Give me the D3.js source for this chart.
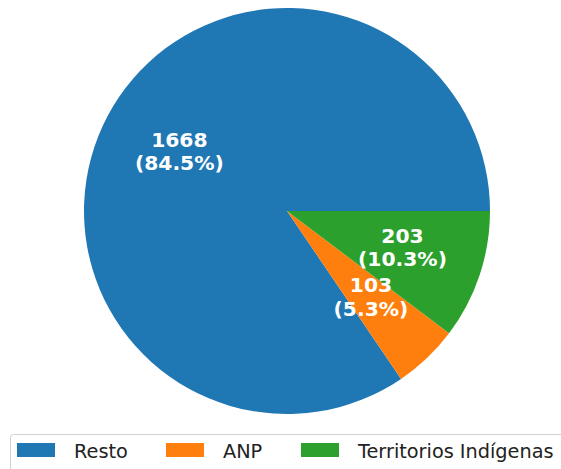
<!DOCTYPE html>
<html>
<head>
<meta charset="utf-8">
<script src="https://cdn.jsdelivr.net/npm/d3@7"></script>
<style>
  body { margin: 0; background: #fff; }
  svg { display: block; font-family: "DejaVu Sans", sans-serif; }
</style>
</head>
<body>
<div id="chart"></div>
<script>
// Data
const categories = ["Resto", "ANP", "Territorios Indígenas"];
const counts = [1668, 103, 203];
const pctLabels = ["84.5%", "5.3%", "10.3%"];
const colors = ["#1f77b4", "#ff7f0e", "#2ca02c"];

const width = 561, height = 469;
const cx = 287, cy = 211, radius = 203;

const svg = d3.select("#chart")
    .append("svg")
    .attr("width", width)
    .attr("height", height);

const g = svg.append("g")
    .attr("transform", `translate(${cx},${cy})`);

// matplotlib style: start at 3 o'clock, counter-clockwise
const pie = d3.pie()
    .sort(null)
    .value(d => d.value)
    .startAngle(Math.PI / 2)
    .endAngle(Math.PI / 2 - 2 * Math.PI);

const data = categories.map((c, i) => ({ name: c, value: counts[i], pct: pctLabels[i], color: colors[i] }));
const arcs = pie(data);

const arc = d3.arc().innerRadius(0).outerRadius(radius);
const labelArc = d3.arc().innerRadius(radius * 0.6).outerRadius(radius * 0.6);

g.selectAll("path.slice")
    .data(arcs)
    .enter()
    .append("path")
    .attr("class", "slice")
    .attr("d", arc)
    .attr("fill", d => d.data.color);

// Labels
const labels = g.selectAll("text.lbl")
    .data(arcs)
    .enter()
    .append("text")
    .attr("class", "lbl")
    .attr("transform", d => `translate(${labelArc.centroid(d)})`)
    .attr("text-anchor", "middle")
    .attr("fill", "#fff")
    .attr("font-weight", "bold")
    .attr("font-size", "20.3px");
labels.append("tspan")
    .attr("x", 0)
    .attr("y", -7)
    .text(d => d.data.value);
labels.append("tspan")
    .attr("x", 0)
    .attr("y", 16.3)
    .text(d => `(${d.data.pct})`);

// Legend
const legend = svg.append("g");
legend.append("rect")
    .attr("x", 10.5)
    .attr("y", 434.5)
    .attr("width", 560)
    .attr("height", 50)
    .attr("rx", 3)
    .attr("fill", "#fff")
    .attr("stroke", "#d0d0d0");

const legX = [17, 166, 301];
const items = legend.selectAll("g.item")
    .data(data)
    .enter()
    .append("g")
    .attr("class", "item")
    .attr("transform", (d, i) => `translate(${legX[i]},443)`);
items.append("rect")
    .attr("width", 38)
    .attr("height", 14)
    .attr("fill", d => d.color);
items.append("text")
    .attr("x", 57)
    .attr("y", 15)
    .attr("font-size", "19.3px")
    .attr("fill", "#222")
    .text(d => d.name);
</script>
</body>
</html>
